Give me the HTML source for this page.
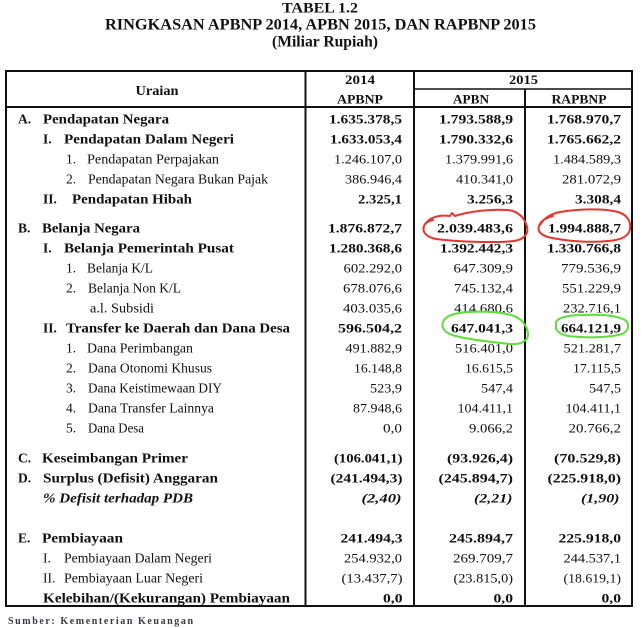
<!DOCTYPE html>
<html><head><meta charset="utf-8"><style>
html,body{margin:0;padding:0;background:#fff;}
svg{display:block;}
text{font-family:"Liberation Serif",serif;fill:#111;}
.b{font-weight:bold;}
.t{font-size:13.5px;}
.n{font-size:13px;}
</style></head><body>
<svg width="642" height="628" viewBox="0 0 642 628" xmlns="http://www.w3.org/2000/svg">
<rect width="642" height="628" fill="#fff"/>
<!-- Titles -->
<text class="b" x="320" y="12.5" font-size="15" text-anchor="middle" textLength="76" lengthAdjust="spacingAndGlyphs">TABEL 1.2</text>
<text class="b" x="320.5" y="29.5" font-size="15.5" text-anchor="middle" textLength="431" lengthAdjust="spacingAndGlyphs">RINGKASAN APBNP 2014, APBN 2015, DAN RAPBNP 2015</text>
<text class="b" x="325" y="46.5" font-size="15.5" text-anchor="middle" textLength="106" lengthAdjust="spacingAndGlyphs">(Miliar Rupiah)</text>

<!-- Table lines -->
<g stroke="#111" fill="none">
<rect x="6" y="71" width="626" height="535" stroke-width="2"/>
<line x1="305.5" y1="71" x2="305.5" y2="606" stroke-width="2"/>
<line x1="414" y1="71" x2="414" y2="606" stroke-width="2"/>
<line x1="525" y1="89" x2="525" y2="606" stroke-width="2"/>
<line x1="414" y1="89" x2="632" y2="89" stroke-width="1.5"/>
<line x1="6" y1="107" x2="632" y2="107" stroke-width="2"/>
</g>

<!-- Header -->
<text class="b t" x="157" y="95" text-anchor="middle" textLength="43" lengthAdjust="spacingAndGlyphs">Uraian</text>
<text class="b n" x="360" y="84" text-anchor="middle" textLength="30" lengthAdjust="spacingAndGlyphs">2014</text>
<text class="b n" x="523.5" y="84" text-anchor="middle" textLength="29" lengthAdjust="spacingAndGlyphs">2015</text>
<text class="b n" x="360" y="103.5" text-anchor="middle" textLength="46" lengthAdjust="spacingAndGlyphs">APBNP</text>
<text class="b n" x="471" y="103.5" text-anchor="middle" textLength="36" lengthAdjust="spacingAndGlyphs">APBN</text>
<text class="b n" x="579" y="103.5" text-anchor="middle" textLength="55" lengthAdjust="spacingAndGlyphs">RAPBNP</text>

<!-- Labels -->
<g class="t">
<text class="b" x="18" y="123.5">A.</text>
<text class="b" x="43" y="123.5" textLength="126" lengthAdjust="spacingAndGlyphs">Pendapatan Negara</text>
<text class="b" x="43" y="143.5">I.</text>
<text class="b" x="64" y="143.5" textLength="170" lengthAdjust="spacingAndGlyphs">Pendapatan Dalam Negeri</text>
<text x="66" y="163.5">1.</text>
<text x="87" y="163.5" textLength="132" lengthAdjust="spacingAndGlyphs">Pendapatan Perpajakan</text>
<text x="66" y="183.5">2.</text>
<text x="88" y="183.5" textLength="180" lengthAdjust="spacingAndGlyphs">Pendapatan Negara Bukan Pajak</text>
<text class="b" x="43" y="203.5">II.</text>
<text class="b" x="72" y="203.5" textLength="120" lengthAdjust="spacingAndGlyphs">Pendapatan Hibah</text>

<text class="b" x="18" y="232.5">B.</text>
<text class="b" x="42" y="232.5" textLength="98" lengthAdjust="spacingAndGlyphs">Belanja Negara</text>
<text class="b" x="43" y="252.5">I.</text>
<text class="b" x="64" y="252.5" textLength="170" lengthAdjust="spacingAndGlyphs">Belanja Pemerintah Pusat</text>
<text x="66" y="272.5">1.</text>
<text x="87" y="272.5" textLength="66" lengthAdjust="spacingAndGlyphs">Belanja K/L</text>
<text x="66" y="292.5">2.</text>
<text x="88" y="292.5" textLength="93" lengthAdjust="spacingAndGlyphs">Belanja Non K/L</text>
<text x="90" y="312.5" textLength="64" lengthAdjust="spacingAndGlyphs">a.l. Subsidi</text>
<text class="b" x="43" y="332.5">II.</text>
<text class="b" x="66" y="332.5" textLength="224" lengthAdjust="spacingAndGlyphs">Transfer ke Daerah dan Dana Desa</text>
<text x="66" y="352.5">1.</text>
<text x="87" y="352.5" textLength="106" lengthAdjust="spacingAndGlyphs">Dana Perimbangan</text>
<text x="66" y="372.5">2.</text>
<text x="88" y="372.5" textLength="124" lengthAdjust="spacingAndGlyphs">Dana Otonomi Khusus</text>
<text x="66" y="392.5">3.</text>
<text x="88" y="392.5" textLength="134" lengthAdjust="spacingAndGlyphs">Dana Keistimewaan DIY</text>
<text x="66" y="412.5">4.</text>
<text x="88" y="412.5" textLength="126" lengthAdjust="spacingAndGlyphs">Dana Transfer Lainnya</text>
<text x="66" y="432.5">5.</text>
<text x="88" y="432.5" textLength="56" lengthAdjust="spacingAndGlyphs">Dana Desa</text>

<text class="b" x="18" y="462.5">C.</text>
<text class="b" x="42" y="462.5" textLength="146" lengthAdjust="spacingAndGlyphs">Keseimbangan Primer</text>
<text class="b" x="18" y="482.5">D.</text>
<text class="b" x="43" y="482.5" textLength="175" lengthAdjust="spacingAndGlyphs">Surplus (Defisit) Anggaran</text>
<text class="b" font-style="italic" x="43" y="502.5" textLength="150" lengthAdjust="spacingAndGlyphs">% Defisit terhadap PDB</text>

<text class="b" x="18" y="542.5">E.</text>
<text class="b" x="42" y="542.5" textLength="81" lengthAdjust="spacingAndGlyphs">Pembiayaan</text>
<text x="43" y="562.5">I.</text>
<text x="64" y="562.5" textLength="148" lengthAdjust="spacingAndGlyphs">Pembiayaan Dalam Negeri</text>
<text x="43" y="582.5">II.</text>
<text x="64" y="582.5" textLength="139" lengthAdjust="spacingAndGlyphs">Pembiayaan Luar Negeri</text>
<text class="b" x="43" y="602.5" textLength="247" lengthAdjust="spacingAndGlyphs">Kelebihan/(Kekurangan) Pembiayaan</text>
</g>

<!-- Numbers -->
<g class="n" text-anchor="end">
<!-- row 1 -->
<text class="b" x="402" y="123.5" textLength="73" lengthAdjust="spacingAndGlyphs">1.635.378,5</text>
<text class="b" x="513" y="123.5" textLength="74" lengthAdjust="spacingAndGlyphs">1.793.588,9</text>
<text class="b" x="621" y="123.5" textLength="74" lengthAdjust="spacingAndGlyphs">1.768.970,7</text>
<!-- row 2 -->
<text class="b" x="402" y="143.5" textLength="72" lengthAdjust="spacingAndGlyphs">1.633.053,4</text>
<text class="b" x="513" y="143.5" textLength="74" lengthAdjust="spacingAndGlyphs">1.790.332,6</text>
<text class="b" x="621" y="143.5" textLength="74" lengthAdjust="spacingAndGlyphs">1.765.662,2</text>
<!-- row 3 -->
<text x="402" y="163.5" textLength="68" lengthAdjust="spacingAndGlyphs">1.246.107,0</text>
<text x="513" y="163.5" textLength="68" lengthAdjust="spacingAndGlyphs">1.379.991,6</text>
<text x="621" y="163.5" textLength="68" lengthAdjust="spacingAndGlyphs">1.484.589,3</text>
<!-- row 4 -->
<text x="402" y="183.5" textLength="57" lengthAdjust="spacingAndGlyphs">386.946,4</text>
<text x="513" y="183.5" textLength="57" lengthAdjust="spacingAndGlyphs">410.341,0</text>
<text x="621" y="183.5" textLength="59" lengthAdjust="spacingAndGlyphs">281.072,9</text>
<!-- row 5 -->
<text class="b" x="402" y="203.5" textLength="44" lengthAdjust="spacingAndGlyphs">2.325,1</text>
<text class="b" x="513" y="203.5" textLength="46" lengthAdjust="spacingAndGlyphs">3.256,3</text>
<text class="b" x="621" y="203.5" textLength="46" lengthAdjust="spacingAndGlyphs">3.308,4</text>
<!-- row 6 -->
<text class="b" x="402" y="232.5" textLength="74" lengthAdjust="spacingAndGlyphs">1.876.872,7</text>
<text class="b" x="513" y="232.5" textLength="76" lengthAdjust="spacingAndGlyphs">2.039.483,6</text>
<text class="b" x="621" y="232.5" textLength="73" lengthAdjust="spacingAndGlyphs">1.994.888,7</text>
<!-- row 7 -->
<text class="b" x="402" y="252.5" textLength="73" lengthAdjust="spacingAndGlyphs">1.280.368,6</text>
<text class="b" x="513" y="252.5" textLength="73" lengthAdjust="spacingAndGlyphs">1.392.442,3</text>
<text class="b" x="621" y="252.5" textLength="74" lengthAdjust="spacingAndGlyphs">1.330.766,8</text>
<!-- row 8 -->
<text x="402" y="272.5" textLength="58.5" lengthAdjust="spacingAndGlyphs">602.292,0</text>
<text x="513" y="272.5" textLength="59.5" lengthAdjust="spacingAndGlyphs">647.309,9</text>
<text x="621" y="272.5" textLength="60" lengthAdjust="spacingAndGlyphs">779.536,9</text>
<!-- row 9 -->
<text x="402" y="292.5" textLength="59" lengthAdjust="spacingAndGlyphs">678.076,6</text>
<text x="513" y="292.5" textLength="59" lengthAdjust="spacingAndGlyphs">745.132,4</text>
<text x="621" y="292.5" textLength="59" lengthAdjust="spacingAndGlyphs">551.229,9</text>
<!-- row 10 -->
<text x="402" y="312.5" textLength="59" lengthAdjust="spacingAndGlyphs">403.035,6</text>
<text x="513" y="312.5" textLength="59" lengthAdjust="spacingAndGlyphs">414.680,6</text>
<text x="621" y="312.5" textLength="58" lengthAdjust="spacingAndGlyphs">232.716,1</text>
<!-- row 11 -->
<text class="b" x="402" y="332.5" textLength="64" lengthAdjust="spacingAndGlyphs">596.504,2</text>
<text class="b" x="513" y="332.5" textLength="62" lengthAdjust="spacingAndGlyphs">647.041,3</text>
<text class="b" x="621" y="332.5" textLength="60" lengthAdjust="spacingAndGlyphs">664.121,9</text>
<!-- row 12 -->
<text x="402" y="352.5" textLength="56.5" lengthAdjust="spacingAndGlyphs">491.882,9</text>
<text x="513" y="352.5" textLength="58" lengthAdjust="spacingAndGlyphs">516.401,0</text>
<text x="621" y="352.5" textLength="57.5" lengthAdjust="spacingAndGlyphs">521.281,7</text>
<!-- row 13 -->
<text x="402" y="372.5" textLength="48" lengthAdjust="spacingAndGlyphs">16.148,8</text>
<text x="513" y="372.5" textLength="48" lengthAdjust="spacingAndGlyphs">16.615,5</text>
<text x="621" y="372.5" textLength="48" lengthAdjust="spacingAndGlyphs">17.115,5</text>
<!-- row 14 -->
<text x="402" y="392.5" textLength="32" lengthAdjust="spacingAndGlyphs">523,9</text>
<text x="513" y="392.5" textLength="32" lengthAdjust="spacingAndGlyphs">547,4</text>
<text x="621" y="392.5" textLength="32" lengthAdjust="spacingAndGlyphs">547,5</text>
<!-- row 15 -->
<text x="402" y="412.5" textLength="49" lengthAdjust="spacingAndGlyphs">87.948,6</text>
<text x="513" y="412.5" textLength="55.5" lengthAdjust="spacingAndGlyphs">104.411,1</text>
<text x="621" y="412.5" textLength="55.5" lengthAdjust="spacingAndGlyphs">104.411,1</text>
<!-- row 16 -->
<text x="402" y="432.5" textLength="19" lengthAdjust="spacingAndGlyphs">0,0</text>
<text x="513" y="432.5" textLength="44" lengthAdjust="spacingAndGlyphs">9.066,2</text>
<text x="621" y="432.5" textLength="52.5" lengthAdjust="spacingAndGlyphs">20.766,2</text>
<!-- row 17 -->
<text class="b" x="402.5" y="462.5" textLength="68.5" lengthAdjust="spacingAndGlyphs">(106.041,1)</text>
<text class="b" x="513" y="462.5" textLength="66" lengthAdjust="spacingAndGlyphs">(93.926,4)</text>
<text class="b" x="621" y="462.5" textLength="67" lengthAdjust="spacingAndGlyphs">(70.529,8)</text>
<!-- row 18 -->
<text class="b" x="402.5" y="482.5" textLength="72" lengthAdjust="spacingAndGlyphs">(241.494,3)</text>
<text class="b" x="513" y="482.5" textLength="74.5" lengthAdjust="spacingAndGlyphs">(245.894,7)</text>
<text class="b" x="621" y="482.5" textLength="73.5" lengthAdjust="spacingAndGlyphs">(225.918,0)</text>
<!-- row 19 -->
<text class="b" font-style="italic" x="401.5" y="502.5" textLength="40" lengthAdjust="spacingAndGlyphs">(2,40)</text>
<text class="b" font-style="italic" x="512.5" y="502.5" textLength="38.5" lengthAdjust="spacingAndGlyphs">(2,21)</text>
<text class="b" font-style="italic" x="619.5" y="502.5" textLength="38.5" lengthAdjust="spacingAndGlyphs">(1,90)</text>
<!-- row 20 -->
<text class="b" x="402.5" y="542.5" textLength="62" lengthAdjust="spacingAndGlyphs">241.494,3</text>
<text class="b" x="513" y="542.5" textLength="64" lengthAdjust="spacingAndGlyphs">245.894,7</text>
<text class="b" x="621" y="542.5" textLength="62.5" lengthAdjust="spacingAndGlyphs">225.918,0</text>
<!-- row 21 -->
<text x="402" y="562.5" textLength="58" lengthAdjust="spacingAndGlyphs">254.932,0</text>
<text x="513" y="562.5" textLength="60" lengthAdjust="spacingAndGlyphs">269.709,7</text>
<text x="621" y="562.5" textLength="57.5" lengthAdjust="spacingAndGlyphs">244.537,1</text>
<!-- row 22 -->
<text x="402.5" y="582.5" textLength="61" lengthAdjust="spacingAndGlyphs">(13.437,7)</text>
<text x="513" y="582.5" textLength="59.5" lengthAdjust="spacingAndGlyphs">(23.815,0)</text>
<text x="621" y="582.5" textLength="57.5" lengthAdjust="spacingAndGlyphs">(18.619,1)</text>
<!-- row 23 -->
<text class="b" x="402.5" y="602.5" textLength="19.5" lengthAdjust="spacingAndGlyphs">0,0</text>
<text class="b" x="513" y="602.5" textLength="19.5" lengthAdjust="spacingAndGlyphs">0,0</text>
<text class="b" x="621" y="602.5" textLength="19.5" lengthAdjust="spacingAndGlyphs">0,0</text>
</g>

<!-- Hand-drawn circles -->
<g fill="none" stroke-width="2" stroke-linecap="round" stroke-linejoin="round">
<path stroke="#e8342e" d="M427 222 C432 216 442 215 450 216 L452 213 L455 216 C470 211 492 209 508 210 C518 211 525 218 527 227 C529 235 522 240 514 241 C495 243 460 242 436 239 C426 237 422 232 424 226 C425 223 428 221 433 220"/>
<path stroke="#e8342e" d="M540 225 C544 218 550 214 560 212 C578 209 603 208 618 212 C628 215 631 222 630 229 C629 236 622 240 608 241 C590 243 568 241 552 238 C541 236 537 231 539 226 C541 220 548 217 553 216"/>
<path stroke="#5fdd3c" d="M443 322 C446 315 455 313 468 312 C485 311 503 312 514 316 C522 319 527 326 528 333 C529 341 520 345 510 344 C490 342 466 339 452 335 C444 332 441 327 443 322 Z"/>
<path stroke="#5fdd3c" d="M556 322 C559 317 568 315 585 315 C603 314 618 316 625 320 C630 324 629 331 622 334 C608 338 585 338 568 336 C559 334 555 330 556 326 Z"/>
</g>

<!-- Footer -->
<text x="8" y="624" font-size="10" font-weight="bold" fill="#3a3a40" style="fill:#3a3a40" textLength="185" lengthAdjust="spacing">Sumber: Kementerian Keuangan</text>
</svg>
</body></html>
